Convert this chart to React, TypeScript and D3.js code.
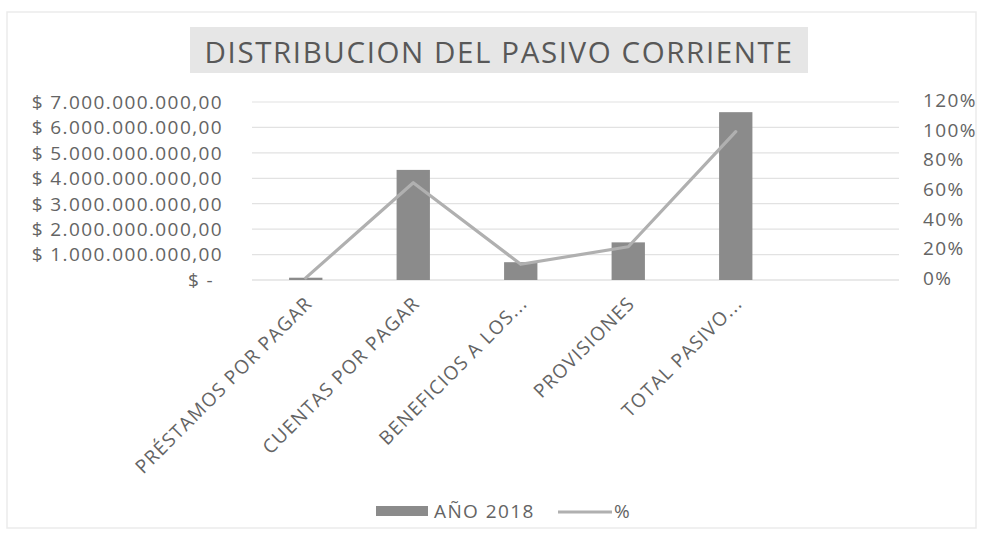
import * as d3 from "d3";

// Chart data
const categories = [
  "PRÉSTAMOS POR PAGAR",
  "CUENTAS POR PAGAR",
  "BENEFICIOS A LOS...",
  "PROVISIONES",
  "TOTAL PASIVO...",
];
const valores2018 = [90000000, 4330000000, 700000000, 1480000000, 6600000000];
const porcentajes = [0.014, 0.656, 0.106, 0.224, 1.0];
const leftTicks = [0, 1e9, 2e9, 3e9, 4e9, 5e9, 6e9, 7e9];
const rightTicks = [0, 0.2, 0.4, 0.6, 0.8, 1.0, 1.2];
const title = "DISTRIBUCION DEL PASIVO CORRIENTE";
const legendLabels = ["AÑO 2018", "%"];

const W = 982;
const H = 540;
const plot = { left: 252, right: 897, top: 102, bottom: 280 };
const font = "'Open Sans', 'Noto Sans', sans-serif";
const textColor = "#646464";
const barColor = "#8b8b8b";
const lineColor = "#b0b0b0";

const locale = d3.formatLocale({
  decimal: ",",
  thousands: ".",
  grouping: [3],
  currency: ["$ ", ""],
});
const money = locale.format("$,.2f");
const fmtLeft = (v: number) => (v === 0 ? "$ -" : money(v));
const fmtRight = d3.format(".0%");

export default function App() {
  // one extra empty slot at the end, as in the spreadsheet range
  const x = d3
    .scaleBand<string>()
    .domain([...categories, ""])
    .range([plot.left, plot.right])
    .paddingInner(0.69)
    .paddingOuter(0.345);
  const y = d3.scaleLinear().domain([0, 7e9]).range([plot.bottom, plot.top]);
  const y2 = d3.scaleLinear().domain([0, 1.2]).range([plot.bottom, plot.top]);
  const cx = (c: string) => (x(c) || 0) + x.bandwidth() / 2;

  const line = d3
    .line<number>()
    .x((_, i) => cx(categories[i]))
    .y((d) => y2(d));

  return (
    <svg
      width={W}
      height={H}
      viewBox={`0 0 ${W} ${H}`}
      style={{ position: "absolute", left: 0, top: 0, background: "#fff" }}
      fontFamily={font}
    >
      <rect x={7} y={12} width={969} height={516} fill="#fff" stroke="#ebebeb" strokeWidth={1.5} />

      {/* title */}
      <rect x={190} y={27} width={618} height={46} fill="#e6e6e6" />
      <text
        x={499}
        y={63}
        textAnchor="middle"
        fontSize={29.5}
        letterSpacing={1.6}
        fill="#585858"
      >
        {title}
      </text>

      {/* gridlines */}
      <g>
        {leftTicks.map((t) => (
          <line
            key={t}
            x1={plot.left}
            x2={plot.right + 2}
            y1={y(t)}
            y2={y(t)}
            stroke={t === 0 ? "#d4d4d4" : "#e2e2e2"}
            strokeWidth={1.2}
          />
        ))}
      </g>

      {/* left axis */}
      <g fontSize={19} letterSpacing={1.4} fill={textColor}>
        {leftTicks.map((t) => (
          <text key={t} x={t === 0 ? 214 : 223} y={y(t)} dy="0.36em" textAnchor="end">
            {fmtLeft(t)}
          </text>
        ))}
      </g>

      {/* right axis */}
      <g fontSize={19} letterSpacing={1.4} fill={textColor}>
        {rightTicks.map((t) => (
          <text key={t} x={923} y={y2(t) - 2} dy="0.36em" textAnchor="start">
            {fmtRight(t)}
          </text>
        ))}
      </g>

      {/* bars */}
      <g fill={barColor}>
        {categories.map((c, i) => (
          <rect
            key={c}
            x={x(c)}
            y={y(valores2018[i])}
            width={x.bandwidth()}
            height={plot.bottom - y(valores2018[i])}
          />
        ))}
      </g>

      {/* percentage line */}
      <path
        d={line(porcentajes) || ""}
        fill="none"
        stroke={lineColor}
        strokeWidth={3.2}
        strokeLinejoin="round"
        strokeLinecap="round"
      />

      {/* category labels */}
      <g fontSize={19} letterSpacing={1.2} fill={textColor}>
        {categories.map((c) => (
          <text
            key={c}
            textAnchor="end"
            dy="0.72em"
            transform={`translate(${cx(c) - 2},${plot.bottom + 15}) rotate(-45)`}
          >
            {c}
          </text>
        ))}
      </g>

      {/* legend */}
      <g fontSize={19} letterSpacing={1.4} fill={textColor}>
        <rect x={376} y={506} width={52} height={10} fill={barColor} />
        <text x={434} y={518}>
          {legendLabels[0]}
        </text>
        <line x1={558} x2={612} y1={512} y2={512} stroke={lineColor} strokeWidth={3} />
        <text x={614} y={518}>
          {legendLabels[1]}
        </text>
      </g>
    </svg>
  );
}
